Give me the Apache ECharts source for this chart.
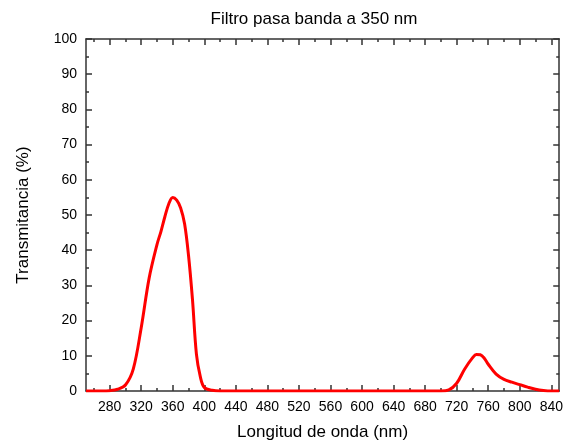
<!DOCTYPE html>
<html>
<head>
<meta charset="utf-8">
<script src="https://cdn.jsdelivr.net/npm/echarts@6/dist/echarts.min.js"></script>
<style>html,body{margin:0;padding:0;background:#fff}#c{width:566px;height:446px}</style>
</head>
<body>
<div id="c"></div>
<script>
const wavelengths = [250,260,270,280,290,300,310,320,330,340,345,350,355,360,365,370,375,380,385,390,395,400,410,420,450,500,550,600,650,700,710,720,730,740,745,750,755,760,770,780,790,800,810,820,830,840,850];
const transmittance = [0,0,0,0.1,0.5,1.7,6.3,18,32,41.6,45.3,49.5,53.2,55,54.2,52,47.5,38.5,26,10.5,4,1,0.2,0,0,0,0,0,0,0,0.3,2.2,6.2,9.4,10.4,10.3,9.3,7.6,4.8,3.3,2.5,1.8,1.1,0.5,0.15,0,0];
const xMajorTicks = [280,320,360,400,440,480,520,560,600,640,680,720,760,800,840];
const xMinorTicks = [260,300,340,380,420,460,500,540,580,620,660,700,740,780,820];

const points = wavelengths.map((w, i) => [w, transmittance[i]]);
const font = 'Liberation Sans, Arial, sans-serif';
const axisColor = '#333';

function xAxisDef(pos, ticks, len, labels, line) {
  return {
    type: 'value', position: pos, min: 250, max: 850,
    axisLine: {show: line, onZero: false, lineStyle: {color: axisColor, width: 1.5}},
    axisTick: {show: true, inside: true, length: len, customValues: ticks, lineStyle: {color: axisColor, width: 1.5}},
    axisLabel: labels ? {show: true, customValues: ticks, color: '#000', fontSize: 14, fontFamily: font, margin: 9} : {show: false},
    splitLine: {show: false}
  };
}
function yAxisDef(pos, labels) {
  return {
    type: 'value', position: pos, min: 0, max: 100, interval: 10,
    axisLine: {show: true, onZero: false, lineStyle: {color: axisColor, width: 1.5}},
    axisTick: {show: true, inside: true, length: 6, lineStyle: {color: axisColor, width: 1.5}},
    minorTick: {show: true, splitNumber: 2, length: 3, lineStyle: {color: axisColor, width: 1.5}},
    axisLabel: labels ? {show: true, color: '#000', fontSize: 14, fontFamily: font, margin: 9} : {show: false},
    splitLine: {show: false},
    name: labels ? 'Transmitancia (%)' : '',
    nameLocation: 'middle', nameGap: 54,
    nameTextStyle: {fontSize: 17, fontFamily: font, color: '#000'}
  };
}

const xMain = xAxisDef('bottom', xMajorTicks, 6, true, true);
xMain.name = 'Longitud de onda (nm)';
xMain.nameLocation = 'middle';
xMain.nameGap = 33;
xMain.nameTextStyle = {fontSize: 17, fontFamily: font, color: '#000'};

const chart = echarts.init(document.getElementById('c'), null, {renderer: 'canvas'});
chart.setOption({
  backgroundColor: '#fff',
  animation: false,
  title: {
    text: 'Filtro pasa banda a 350 nm', left: 309, top: 6, textAlign: 'center',
    textStyle: {fontSize: 17, fontWeight: 'normal', fontFamily: font, color: '#000'}
  },
  grid: {left: 86, right: 4, top: 39, bottom: 54, containLabel: false},
  xAxis: [
    xMain,
    xAxisDef('bottom', xMinorTicks, 3, false, false),
    xAxisDef('top', xMajorTicks, 6, false, true),
    xAxisDef('top', xMinorTicks, 3, false, false)
  ],
  yAxis: [yAxisDef('left', true), yAxisDef('right', false)],
  series: [{
    type: 'line', xAxisIndex: 0, yAxisIndex: 0, data: points,
    smooth: 0.35, showSymbol: false,
    lineStyle: {color: '#ff0000', width: 3}, itemStyle: {color: '#ff0000'}
  }]
});
</script>
</body>
</html>
